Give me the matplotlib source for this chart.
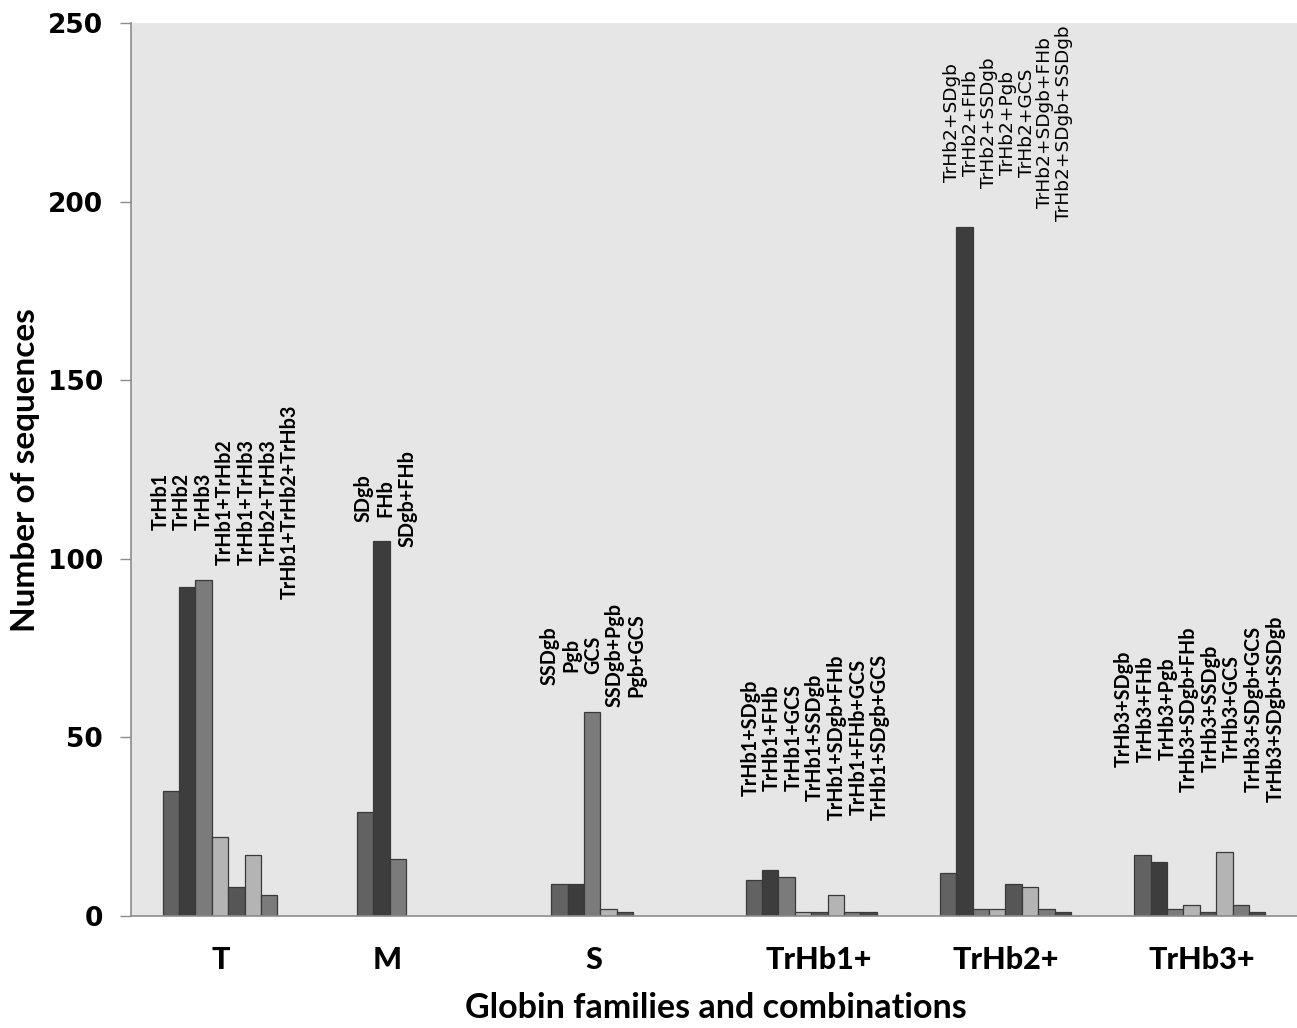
import matplotlib
matplotlib.use("Agg")
import matplotlib.pyplot as plt
import matplotlib.transforms as mtransforms
import numpy as np

# globin family groups and per-combination sequence counts
groups = ["T", "M", "S", "TrHb1+", "TrHb2+", "TrHb3+"]

t_labels = ["TrHb1", "TrHb2", "TrHb3", "TrHb1+TrHb2", "TrHb1+TrHb3",
            "TrHb2+TrHb3", "TrHb1+TrHb2+TrHb3"]
t_counts = [35, 92, 94, 22, 8, 17, 6]

m_labels = ["SDgb", "FHb", "SDgb+FHb"]
m_counts = [29, 105, 16]

s_labels = ["SSDgb", "Pgb", "GCS", "SSDgb+Pgb", "Pgb+GCS"]
s_counts = [9, 9, 57, 2, 1]

trhb1_labels = ["TrHb1+SDgb", "TrHb1+FHb", "TrHb1+GCS", "TrHb1+SSDgb",
                "TrHb1+SDgb+FHb", "TrHb1+FHb+GCS", "TrHb1+SDgb+GCS"]
trhb1_counts = [10, 13, 11, 1, 1, 6, 1, 1]

trhb2_labels = ["TrHb2+SDgb", "TrHb2+FHb", "TrHb2+SSDgb", "TrHb2+Pgb",
                "TrHb2+GCS", "TrHb2+SDgb+FHb", "TrHb2+SDgb+SSDgb"]
trhb2_counts = [12, 193, 2, 2, 9, 8, 2, 1]

trhb3_labels = ["TrHb3+SDgb", "TrHb3+FHb", "TrHb3+Pgb", "TrHb3+SDgb+FHb",
                "TrHb3+SSDgb", "TrHb3+GCS", "TrHb3+SDgb+GCS", "TrHb3+SDgb+SSDgb"]
trhb3_counts = [17, 15, 2, 3, 1, 18, 3, 1]

counts = [t_counts, m_counts, s_counts, trhb1_counts, trhb2_counts, trhb3_counts]
labels = [t_labels, m_labels, s_labels, trhb1_labels, trhb2_labels, trhb3_labels]

n_series = 8
bar_colors = ["#626262", "#3d3d3d", "#7b7b7b", "#b4b4b4",
              "#565656", "#b4b4b4", "#7b7b7b", "#464646"]
w = 0.0844

fig = plt.figure(figsize=(12.97, 10.28), dpi=100)
ax = fig.add_axes([131/1297, 1 - 916/1028, 1 - 131/1297, (916 - 23)/1028])
ax.set_facecolor("#e6e6e6")

for i, vals in enumerate(counts):
    for j, v in enumerate(vals):
        if v <= 0:
            continue
        ax.bar(i + (j - (n_series - 1) / 2) * w, v, width=w,
               color=bar_colors[j], edgecolor="#3a3a3a", linewidth=0.9,
               align="center", zorder=2)

ax.set_xlim(-0.5, len(groups) - 0.5)
ax.set_ylim(0, 250)
ax.set_yticks([0, 50, 100, 150, 200, 250])
ax.set_xticks([])
for lab in ax.get_yticklabels():
    lab.set_fontweight("heavy")
    lab.set_fontsize(19)
    lab.set_family("DejaVu Sans")
ax.tick_params(axis="y", length=8, width=1, color="#8c8c8c", pad=12)
for s in ["top", "right"]:
    ax.spines[s].set_visible(False)
for s in ["left", "bottom"]:
    ax.spines[s].set_color("#8c8c8c")
    ax.spines[s].set_linewidth(1.2)

# rotated label blocks above each group (x in data, y in data)
block_pos = [(-0.016, 116), (0.81, 117), (1.877, 73), (3.02, 50),
             (4.013, 222), (5.0, 58)]
for k, (lab, (bx, by)) in enumerate(zip(labels, block_pos)):
    if k == 4:
        ax.text(bx, by, "\n".join(lab), rotation=90, ha="center", va="center",
                multialignment="center", fontsize=13.3, family="DejaVu Sans",
                linespacing=1.05, zorder=3)
    else:
        ax.text(bx, by, "\n".join(lab), rotation=90, ha="center", va="center",
                multialignment="center", fontsize=14.2, fontweight="bold",
                family=["Lato", "DejaVu Sans"], linespacing=1.1, zorder=3)

# group names under the axis
trans = mtransforms.blended_transform_factory(ax.transData, ax.transAxes)
group_x = [-0.04, 0.82, 1.88, 3.04, 4.0, 5.01]
for g, gx in zip(groups, group_x):
    ax.text(gx, -0.049, g, transform=trans, ha="center", va="center",
            fontsize=22, fontweight="black", family=["Lato", "DejaVu Sans"])

fig.text(716/1297, 1 - 1008/1028, "Globin families and combinations",
         ha="center", va="center", fontsize=24.5, fontweight="bold",
         family=["Lato", "DejaVu Sans"])
fig.text(26/1297, 1 - 470/1028, "Number of sequences", rotation=90,
         ha="center", va="center", fontsize=24, fontweight="bold",
         family=["Lato", "DejaVu Sans"])

fig.savefig("out.png", dpi=100)
